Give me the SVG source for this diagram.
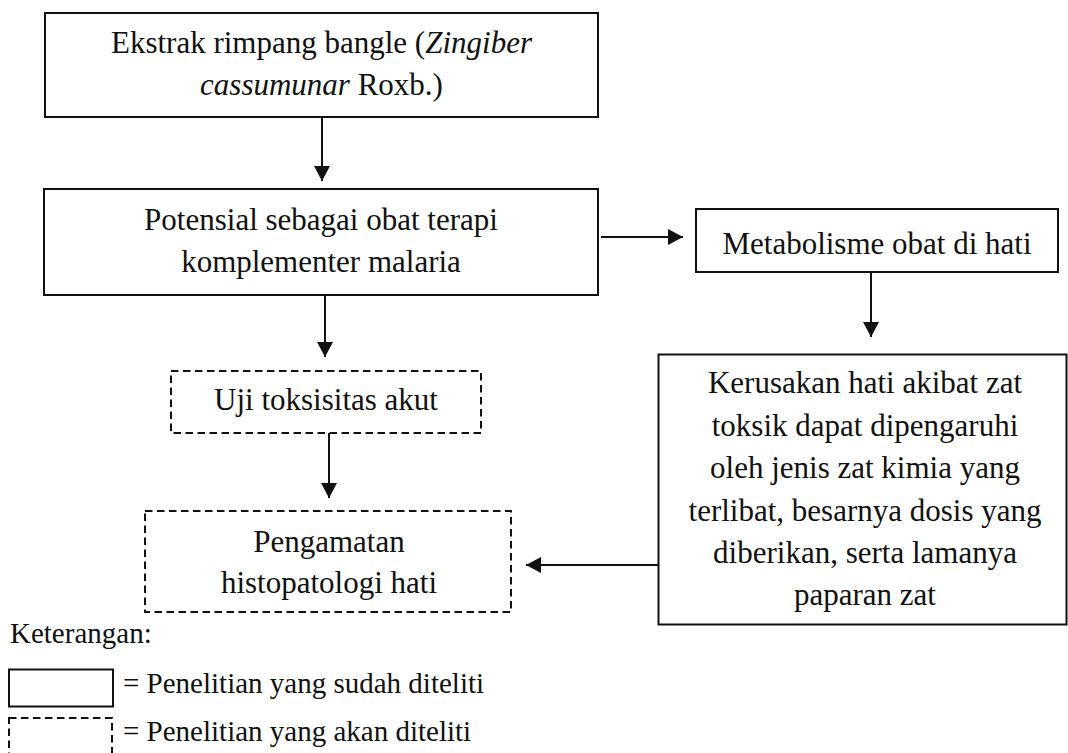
<svg xmlns="http://www.w3.org/2000/svg" width="1068" height="753" viewBox="0 0 1068 753">
  <style>
    .box { fill: none; stroke: #111; stroke-width: 2; }
    .dash { fill: none; stroke: #111; stroke-width: 2; stroke-dasharray: 7.5 4.5; }
    .lbl { font-family: "Liberation Serif", "Times New Roman", serif; font-size: 31px; fill: #111; text-anchor: middle; }
    .leg { font-family: "Liberation Serif", "Times New Roman", serif; font-size: 29px; fill: #111; }
    .edge { fill: none; stroke: #111; stroke-width: 2; marker-end: url(#head); }
    .it { font-style: italic; }
  </style>
  <defs>
    <marker id="head" markerUnits="userSpaceOnUse" markerWidth="16" markerHeight="16" viewBox="0 0 16 16" refX="15" refY="8" orient="auto">
      <path d="M0,0 L15,8 L0,16 Z" fill="#111"/>
    </marker>
  </defs>
  <rect width="1068" height="753" fill="#ffffff"/>

  <!-- flow nodes -->
  <g id="ekstrak">
    <rect class="box" x="45" y="13" width="553" height="104"/>
    <text class="lbl" x="321.5" y="53">Ekstrak rimpang bangle (<tspan class="it">Zingiber</tspan></text>
    <text class="lbl" x="321.5" y="95"><tspan class="it">cassumunar</tspan> Roxb.)</text>
  </g>

  <g id="potensial">
    <rect class="box" x="44" y="189" width="554" height="106"/>
    <text class="lbl" x="321" y="230">Potensial sebagai obat terapi</text>
    <text class="lbl" x="321" y="272">komplementer malaria</text>
  </g>

  <g id="metabolisme">
    <rect class="box" x="696" y="209" width="362" height="63"/>
    <text class="lbl" x="877" y="254">Metabolisme obat di hati</text>
  </g>

  <g id="uji-toksisitas">
    <rect class="dash" x="171" y="371" width="310" height="62"/>
    <text class="lbl" x="326" y="410">Uji toksisitas akut</text>
  </g>

  <g id="kerusakan">
    <rect class="box" x="658.5" y="354.5" width="408" height="270"/>
    <text class="lbl" x="865" y="393">Kerusakan hati akibat zat</text>
    <text class="lbl" x="865" y="436">toksik dapat dipengaruhi</text>
    <text class="lbl" x="865" y="478">oleh jenis zat kimia yang</text>
    <text class="lbl" x="865" y="521">terlibat, besarnya dosis yang</text>
    <text class="lbl" x="865" y="563">diberikan, serta lamanya</text>
    <text class="lbl" x="865" y="605">paparan zat</text>
  </g>

  <g id="pengamatan">
    <rect class="dash" x="145" y="511" width="366" height="101"/>
    <text class="lbl" x="329" y="552">Pengamatan</text>
    <text class="lbl" x="329" y="593">histopatologi hati</text>
  </g>

  <!-- connectors -->
  <g id="connectors">
    <path class="edge" d="M322,117 L322,181"/>
    <path class="edge" d="M325,295 L325,357"/>
    <path class="edge" d="M601,237 L683,237"/>
    <path class="edge" d="M871,272 L871,337"/>
    <path class="edge" d="M329,433 L329,498"/>
    <path class="edge" d="M658,565 L526,565"/>
  </g>

  <!-- legend -->
  <g id="legend">
    <text class="leg" x="10" y="643">Keterangan:</text>
    <rect class="box" x="9" y="669.5" width="104" height="37"/>
    <text class="leg" x="123" y="693">= Penelitian yang sudah diteliti</text>
    <rect class="dash" x="9" y="718" width="103" height="50"/>
    <text class="leg" x="123" y="741">= Penelitian yang akan diteliti</text>
  </g>
</svg>
